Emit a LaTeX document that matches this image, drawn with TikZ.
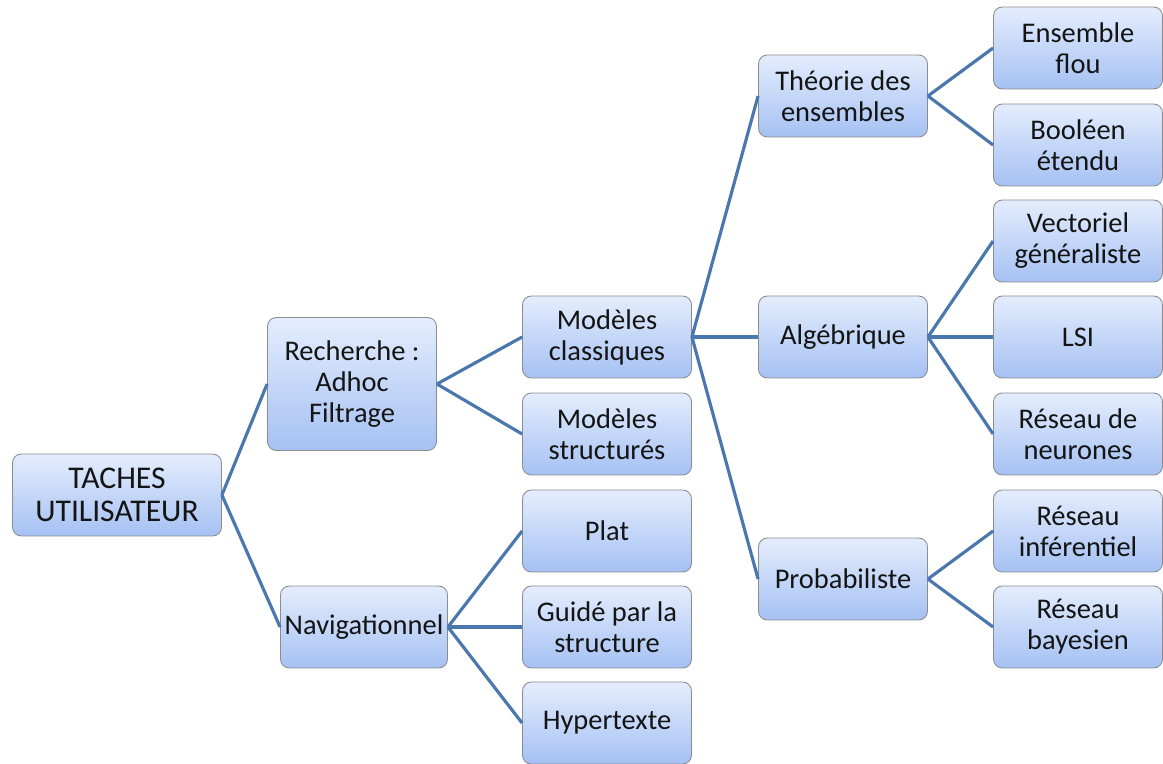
\documentclass[tikz,border=0pt]{standalone}
\usepackage{fontspec}
\setmainfont{Carlito}
\usepackage{xcolor}
\usepackage{tikz}
\usetikzlibrary{calc,positioning}
\definecolor{boxTop}{HTML}{E4EDFD}
\definecolor{boxBottom}{HTML}{A5C1F3}
\definecolor{boxEdge}{HTML}{8A8C90}
\definecolor{linkBlue}{HTML}{4A77AD}
\definecolor{inkDark}{HTML}{141414}

\begin{document}
\begin{tikzpicture}[
        x=0.02cm, y=-0.02cm,
        font=\fontsize{16.2}{17.6}\selectfont,
        task/.style={draw=boxEdge, line width=0.5pt, rounded corners=5pt, top color=boxTop, bottom color=boxBottom, text=inkDark, minimum width=3.38cm, minimum height=1.64cm, align=center, inner sep=2pt},
        link/.style={draw=linkBlue, line width=1.8pt}
    ]
        \useasboundingbox (0,0) rectangle (1163,764);
        \clip (0,0) rectangle (1163,764);

        % --- root and first level ---
        \node[task, minimum width=4.18cm, font=\fontsize{18}{18.4}\selectfont] (taches) at (117,495) {TACHES\\UTILISATEUR};
        \node[task, minimum height=2.66cm] (recherche) at (352,384) {Recherche :\\Adhoc\\Filtrage};
        \node[task, minimum width=3.34cm] (navig) at (364,627) {Navigationnel};

        % --- second level ---
        \node[task] (classiques) at (607,337) {Modèles\\classiques};
        \node[task] (structures) at (607,434) {Modèles\\structurés};
        \node[task] (plat) at (607,531) {Plat};
        \node[task] (guide) at (607,627) {Guidé par la\\structure};
        \node[task] (hyper) at (607,723) {Hypertexte};

        % --- classical models ---
        \node[task] (theorie) at (843,96) {Théorie des\\ensembles};
        \node[task] (algeb) at (843,337) {Algébrique};
        \node[task] (proba) at (843,579) {Probabiliste};

        % --- leaves ---
        \node[task] (flou) at (1078,48) {Ensemble\\flou};
        \node[task] (boole) at (1078,145) {Booléen\\étendu};
        \node[task] (vecto) at (1078,241) {Vectoriel\\généraliste};
        \node[task] (lsi) at (1078,337) {LSI};
        \node[task] (neuro) at (1078,434) {Réseau de\\neurones};
        \node[task] (infer) at (1078,531) {Réseau\\inférentiel};
        \node[task] (bayes) at (1078,627) {Réseau\\bayesien};

        % --- connectors ---
        \draw[link] (taches.east) -- (recherche.west);
        \draw[link] (taches.east) -- (navig.west);
        \foreach \kid in {classiques,structures}
            \draw[link] (recherche.east) -- (\kid.west);
        \foreach \kid in {plat,guide,hyper}
            \draw[link] (navig.east) -- (\kid.west);
        \foreach \kid in {theorie,algeb,proba}
            \draw[link] (classiques.east) -- (\kid.west);
        \foreach \kid in {flou,boole}
            \draw[link] (theorie.east) -- (\kid.west);
        \foreach \kid in {vecto,lsi,neuro}
            \draw[link] (algeb.east) -- (\kid.west);
        \foreach \kid in {infer,bayes}
            \draw[link] (proba.east) -- (\kid.west);
    \end{tikzpicture}
\end{document}
